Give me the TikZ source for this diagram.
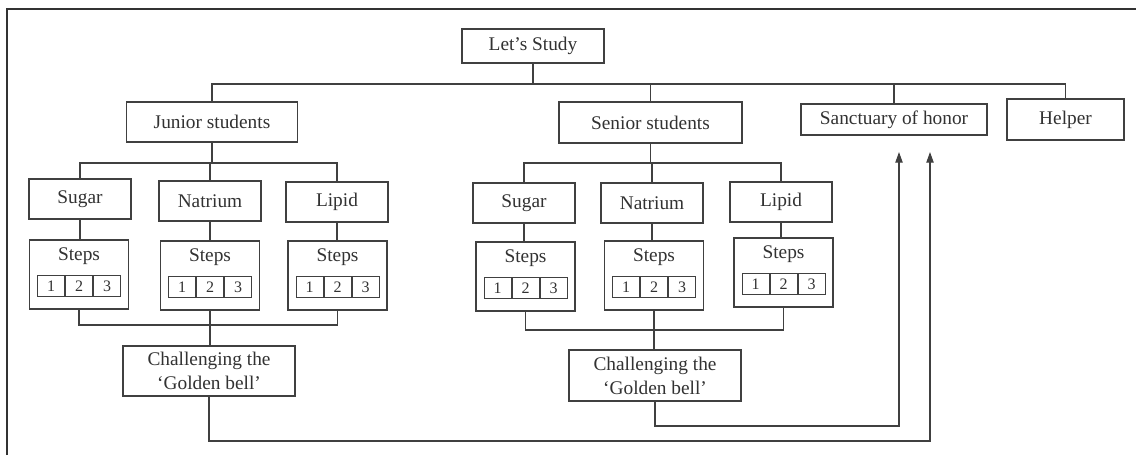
\documentclass[tikz,border=0pt]{standalone}
\usepackage{fontspec}
\setmainfont{Liberation Serif}
\usetikzlibrary{arrows.meta}
\definecolor{ln}{RGB}{64,64,64}
\definecolor{tx}{RGB}{50,50,50}
\newcommand\mkgroup[4]{%
  \node[subbox] (#1) at (#3) {#2};
  \node[stepsbox] (#1S) at (#4) {};
  \node[steptext] (#1T) at ([yshift=-12.75pt]#1S.north) {Steps};
  \node[cell] (#1b) at ([yshift=-35.25pt]#1S.north) {2};
  \node[cell, anchor=east] (#1a) at (#1b.west) {1};
  \node[cell, anchor=west] (#1c) at (#1b.east) {3};
  \draw[conn] (#1.south) -- (#1.south |- #1S.north);
}
\begin{document}
\begin{tikzpicture}[x=0.75pt,y=-0.75pt,
  box/.style={draw=ln, line width=0.85pt, fill=white, text=tx, inner sep=0pt,
    font=\fontsize{14.5}{18}\selectfont, align=center},
  subbox/.style={box, minimum width=76.5pt, minimum height=30pt},
  stepsbox/.style={box, minimum width=74.25pt, minimum height=51.75pt},
  steptext/.style={text=tx, inner sep=0pt, font=\fontsize{14.5}{18}\selectfont},
  cell/.style={draw=ln, line width=0.75pt, minimum width=20.25pt, minimum height=15.75pt,
    inner sep=0pt, text=tx, font=\fontsize{12}{13}\selectfont},
  conn/.style={draw=ln, line width=0.85pt},
  arr/.style={conn, -{Triangle[length=8pt,width=5.5pt]}}]
\useasboundingbox (0,0) rectangle (1136,455);
% frame
\coordinate (fbl) at (7,455);
\coordinate (ftl) at (7,9);
\coordinate (ftr) at (1136,9);
\draw[conn, draw={rgb,255:red,50;green,50;blue,50}] (fbl) -- (ftl) -- (ftr);

% top level
\node[box, minimum width=106.5pt, minimum height=25.5pt] (study) at (533,46) {Let's Study};
\node[box, minimum width=128.25pt, minimum height=30pt] (junior) at (212,122) {Junior students};
\node[box, minimum width=137.25pt, minimum height=30.75pt] (senior) at (650.5,122.5) {Senior students};
\node[box, minimum width=139.5pt, minimum height=23.25pt] (sanct) at (894,119.5) {Sanctuary of honor};
\node[box, minimum width=87.75pt, minimum height=30.75pt] (helper) at (1065.5,119.5) {Helper};

\coordinate (bus) at (533,84);
\draw[conn] (study) -- (bus);
\draw[conn] (junior.north) -- (junior.north |- bus) -- (helper.north |- bus) -- (helper.north);
\draw[conn] (senior.north) -- (senior.north |- bus);
\draw[conn] (sanct.north) -- (sanct.north |- bus);

% junior groups
\mkgroup{jsug}{Sugar}{80,199}{79,274.5}
\mkgroup{jnat}{Natrium}{210,201}{210,275.5}
\mkgroup{jlip}{Lipid}{337,202}{337.5,275.5}

\coordinate (jbus) at (213,163);
\draw[conn] (junior.south) -- (junior.south |- jbus);
\draw[conn] (jsug.north) -- (jsug.north |- jbus) -- (jlip.north |- jbus) -- (jlip.north);
\draw[conn] (jnat.north) -- (jnat.north |- jbus);

\node[box, minimum width=129pt, minimum height=37.5pt] (jgold) at (209,371) {Challenging the\\`Golden bell'};
\coordinate (jbot) at (210,325);
\draw[conn] (jsugS.south) -- (jsugS.south |- jbot) -- (jlipS.south |- jbot) -- (jlipS.south);
\draw[conn] (jnatS.south) -- (jnatS.south |- jgold.north);

% senior groups
\mkgroup{ssug}{Sugar}{524,203}{525.5,276.5}
\mkgroup{snat}{Natrium}{652,203}{654,275.5}
\mkgroup{slip}{Lipid}{781,202}{783.5,272.5}

\coordinate (sbus) at (651,163);
\draw[conn] (senior.south) -- (senior.south |- sbus);
\draw[conn] (ssug.north) -- (ssug.north |- sbus) -- (slip.north |- sbus) -- (slip.north);
\draw[conn] (snat.north) -- (snat.north |- sbus);

\node[box, minimum width=129pt, minimum height=38.25pt] (sgold) at (655,375.5) {Challenging the\\`Golden bell'};
\coordinate (sbot) at (655,330);
\draw[conn] (ssugS.south) -- (ssugS.south |- sbot) -- (slipS.south |- sbot) -- (slipS.south);
\draw[conn] (snatS.south) -- (snatS.south |- sgold.north);

% arrows to sanctuary
\coordinate (tipA) at (899,152);
\coordinate (tipB) at (930,152);
\coordinate (jlow) at (0,441);
\coordinate (slow) at (0,426);
\draw[arr] (jgold.south) -- (jgold.south |- jlow) -| (tipB);
\draw[arr] (sgold.south) -- (sgold.south |- slow) -| (tipA);
\end{tikzpicture}
\end{document}
